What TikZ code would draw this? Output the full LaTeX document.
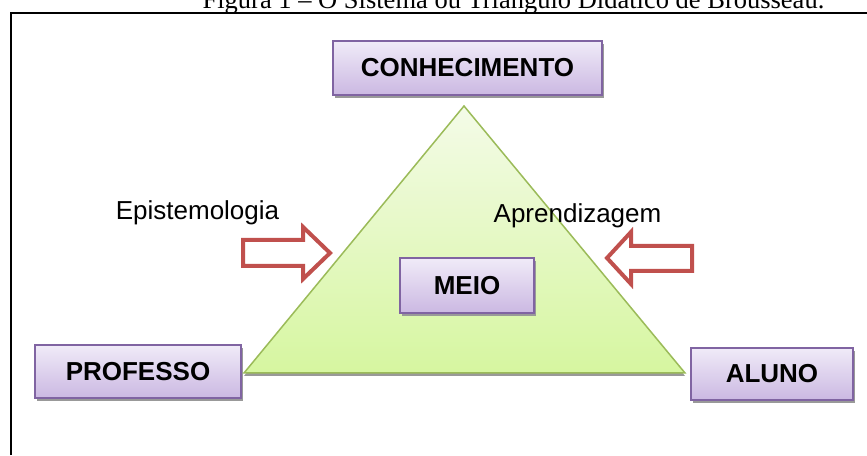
\documentclass[tikz,border=0pt]{standalone}
\usepackage{fontspec}
\setmainfont{Liberation Serif}
\setsansfont{Liberation Sans}
\usetikzlibrary{shadows}
\definecolor{boxtop}{HTML}{F0EBF8}
\definecolor{boxbot}{HTML}{CBB8E2}
\definecolor{boxline}{HTML}{8064A2}
\definecolor{tritop}{HTML}{F4FBE8}
\definecolor{tribot}{HTML}{D6F6A0}
\definecolor{triline}{HTML}{9BBB59}
\definecolor{setared}{HTML}{C0504D}
\tikzset{
  box/.style={draw=boxline, line width=1.5pt, top color=boxtop, bottom color=boxbot,
    drop shadow={shadow xshift=1.5pt, shadow yshift=-3pt, fill=black!40, opacity=1},
    font=\sffamily\bfseries\fontsize{26}{30}\selectfont, inner sep=0pt},
  lbl/.style={font=\sffamily\fontsize{26}{30}\selectfont, inner sep=0pt, anchor=base},
  bigarrow/.style={draw=setared, line width=4pt, fill=white, line join=miter}
}

\begin{document}
\begin{tikzpicture}[x=1pt,y=1pt]
        \useasboundingbox (0,0) rectangle (867,455);

        % Title and frame
        \node[anchor=base, inner sep=0pt, font=\rmfamily\fontsize{26.5}{30}\selectfont] (titulo) at (513.5,446)
          {Figura 1 – O Sistema ou Triângulo Didático de Brousseau.};
        \draw[line width=2pt] (11,0) -- (11,442) -- (867,442);

        % The triangle
        \coordinate (topo) at (464,349);
        \coordinate (esq) at (244,82);
        \coordinate (dir) at (685,82);
        \shadedraw[draw=triline, line width=1.5pt, top color=tritop, bottom color=tribot,
          drop shadow={shadow xshift=0pt, shadow yshift=-3pt, fill=black!40, opacity=1}]
          (topo) -- (dir) -- (esq) -- cycle;

        % Block arrows
        \draw[bigarrow] (243,215) -- (303,215) -- (303,228) -- (330,202) -- (303,176) -- (303,189) -- (243,189) -- cycle;
        \draw[bigarrow] (692,209) -- (631,209) -- (631,223) -- (607,197) -- (631,171) -- (631,184) -- (692,184) -- cycle;

        % Boxes
        \node[box, minimum width=269, minimum height=54] (conhecimento) at (467.5,387) {CONHECIMENTO};
        \node[box, minimum width=134, minimum height=55] (meio) at (467,169.5) {MEIO};
        \node[box, minimum width=206, minimum height=53] (professor) at (138,83.5) {PROFESSO};
        \node[box, minimum width=162, minimum height=52] (aluno) at (772,81) {ALUNO};

        % Add labels
        \node[lbl] (epist) at (197.5,235) {Epistemologia};
        \node[lbl] (aprend) at (577.5,232) {Aprendizagem};

\end{tikzpicture}
\end{document}
